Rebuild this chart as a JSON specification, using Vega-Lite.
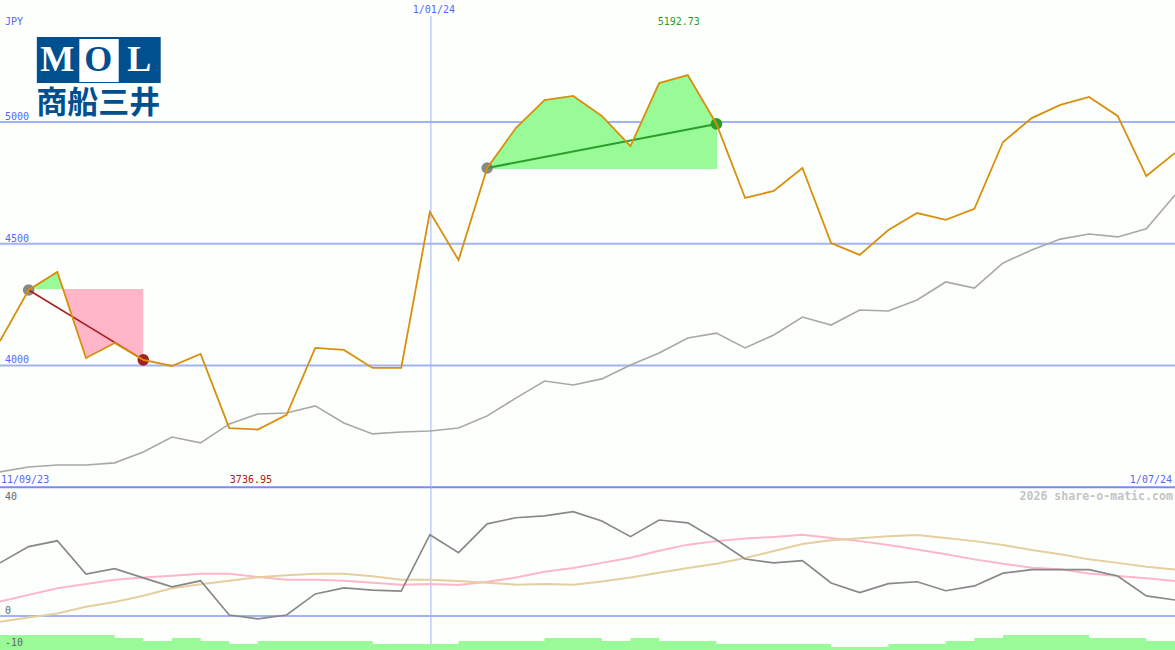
{
"$schema":"https://vega.github.io/schema/vega-lite/v6.json",
"width":1175,"height":650,"padding":0,
"autosize":{"type":"none"},
"background":"#fdfffd",
"config":{"view":{"stroke":null},"text":{"font":"DejaVu Sans Mono","fontSize":10,"baseline":"middle"}},
"datasets":{"weekly":[
{"date":"2023-09-18","price":4100,"avg":3563,"osc":16.6,"fast":4.5,"slow":-1.8,"volume":5},
{"date":"2023-09-25","price":4310,"avg":3583,"osc":21.7,"fast":6.6,"slow":-0.5,"volume":5},
{"date":"2023-10-02","price":4384,"avg":3591,"osc":23.5,"fast":8.7,"slow":0.8,"volume":5},
{"date":"2023-10-09","price":4031,"avg":3591,"osc":13.1,"fast":10,"slow":2.9,"volume":5},
{"date":"2023-10-16","price":4092,"avg":3600,"osc":14.8,"fast":11.3,"slow":4.4,"volume":4},
{"date":"2023-10-23","price":4023,"avg":3645,"osc":11.9,"fast":12,"slow":6.3,"volume":3},
{"date":"2023-10-30","price":3998,"avg":3706,"osc":9.1,"fast":12.6,"slow":8.7,"volume":4},
{"date":"2023-11-06","price":4047,"avg":3682,"osc":11,"fast":13.2,"slow":9.9,"volume":3},
{"date":"2023-11-13","price":3743,"avg":3760,"osc":0.3,"fast":13.2,"slow":11,"volume":2},
{"date":"2023-11-20","price":3736.95,"avg":3801,"osc":-0.9,"fast":12.2,"slow":12.1,"volume":3},
{"date":"2023-11-27","price":3797,"avg":3805,"osc":0.3,"fast":11.3,"slow":12.7,"volume":3},
{"date":"2023-12-04","price":4072,"avg":3834,"osc":6.9,"fast":11.3,"slow":13.2,"volume":3},
{"date":"2023-12-11","price":4064,"avg":3764,"osc":8.8,"fast":11,"slow":13.2,"volume":3},
{"date":"2023-12-18","price":3990,"avg":3719,"osc":8.1,"fast":10.4,"slow":12.4,"volume":2},
{"date":"2023-12-25","price":3990,"avg":3727,"osc":7.8,"fast":9.8,"slow":11.3,"volume":2},
{"date":"2024-01-01","price":4630,"avg":3731,"osc":25.4,"fast":10,"slow":11.3,"volume":2},
{"date":"2024-01-08","price":4433,"avg":3743,"osc":19.8,"fast":9.7,"slow":10.9,"volume":3},
{"date":"2024-01-15","price":4811,"avg":3793,"osc":28.8,"fast":10.7,"slow":10.4,"volume":3},
{"date":"2024-01-22","price":4975,"avg":3866,"osc":30.7,"fast":12,"slow":9.8,"volume":3},
{"date":"2024-01-29","price":5090,"avg":3936,"osc":31.3,"fast":13.8,"slow":10,"volume":4},
{"date":"2024-02-05","price":5107,"avg":3920,"osc":32.6,"fast":15,"slow":9.8,"volume":4},
{"date":"2024-02-12","price":5025,"avg":3945,"osc":29.7,"fast":16.6,"slow":10.8,"volume":3},
{"date":"2024-02-19","price":4901,"avg":4002,"osc":24.8,"fast":18.2,"slow":12,"volume":4},
{"date":"2024-02-26","price":5160,"avg":4051,"osc":30,"fast":20.4,"slow":13.5,"volume":3},
{"date":"2024-03-04","price":5192.73,"avg":4113,"osc":29.1,"fast":22.3,"slow":15,"volume":3},
{"date":"2024-03-11","price":4992,"avg":4133,"osc":23.8,"fast":23.4,"slow":16.3,"volume":2},
{"date":"2024-03-18","price":4688,"avg":4072,"osc":17.8,"fast":24.2,"slow":18.1,"volume":2},
{"date":"2024-03-25","price":4717,"avg":4125,"osc":16.6,"fast":24.7,"slow":20.3,"volume":2},
{"date":"2024-04-01","price":4811,"avg":4199,"osc":17.3,"fast":25.4,"slow":22.5,"volume":2},
{"date":"2024-04-08","price":4503,"avg":4166,"osc":10.3,"fast":24.4,"slow":23.7,"volume":1},
{"date":"2024-04-15","price":4454,"avg":4228,"osc":7.3,"fast":23.4,"slow":24.3,"volume":1},
{"date":"2024-04-22","price":4556,"avg":4224,"osc":10.1,"fast":22.2,"slow":24.9,"volume":2},
{"date":"2024-04-29","price":4626,"avg":4269,"osc":10.7,"fast":20.8,"slow":25.3,"volume":2},
{"date":"2024-05-06","price":4598,"avg":4343,"osc":7.9,"fast":19.3,"slow":24.4,"volume":3},
{"date":"2024-05-13","price":4643,"avg":4318,"osc":9.4,"fast":17.7,"slow":23.4,"volume":4},
{"date":"2024-05-20","price":4918,"avg":4421,"osc":13.4,"fast":16.3,"slow":22.2,"volume":5},
{"date":"2024-05-27","price":5016,"avg":4474,"osc":14.5,"fast":15.1,"slow":20.6,"volume":5},
{"date":"2024-06-03","price":5070,"avg":4519,"osc":14.5,"fast":14.6,"slow":19.3,"volume":5},
{"date":"2024-06-10","price":5103,"avg":4540,"osc":14.5,"fast":13.3,"slow":17.7,"volume":4},
{"date":"2024-06-17","price":5025,"avg":4528,"osc":12.5,"fast":12.5,"slow":16.6,"volume":4},
{"date":"2024-06-24","price":4778,"avg":4561,"osc":6.3,"fast":11.8,"slow":15.4,"volume":3},
{"date":"2024-07-01","price":4873,"avg":4700,"osc":5,"fast":10.9,"slow":14.5,"volume":3}
]},
"encoding":{"x":{"field":"date","type":"temporal","scale":{"domain":["2023-09-18","2024-07-01"]},"axis":null}},
"layer":[
{"encoding":{"y":{"field":"price","type":"quantitative","scale":{"domain":[2831.45,5501]},"axis":null}},
"layer":[
{"data":{"values":[{"price":5000},{"price":4500},{"price":4000}]},"mark":{"type":"rule","color":"#a3b1f5","strokeWidth":2},"encoding":{"x":null}},
{"data":{"values":[{"price":3500}]},"mark":{"type":"rule","color":"#7b8aee","strokeWidth":2},"encoding":{"x":null}},
{"data":{"values":[{"date":"2024-01-01T06:00:00","price":5435,"to":2856}]},"mark":{"type":"rule","color":"#a3b1f5","strokeWidth":1},"encoding":{"y2":{"field":"to"}}},
{"data":{"values":[{"date":"2023-09-25","price":4314,"entry":4314},{"date":"2023-10-02","price":4384,"entry":4314},{"date":"2023-10-03T09:00:00","price":4314,"entry":4314}]},"mark":{"type":"area","color":"#98fb98","opacity":1},"encoding":{"y2":{"field":"entry"}}},
{"data":{"values":[{"date":"2023-10-03T09:00:00","price":4314,"entry":4314},{"date":"2023-10-09","price":4031,"entry":4314},{"date":"2023-10-16","price":4092,"entry":4314},{"date":"2023-10-23","price":4023,"entry":4314}]},"mark":{"type":"area","color":"#ffb6c8","opacity":1},"encoding":{"y2":{"field":"entry"}}},
{"data":{"values":[{"date":"2024-01-15","price":4811,"entry":4807},{"date":"2024-01-22","price":4975,"entry":4807},{"date":"2024-01-29","price":5090,"entry":4807},{"date":"2024-02-05","price":5107,"entry":4807},{"date":"2024-02-12","price":5025,"entry":4807},{"date":"2024-02-19","price":4901,"entry":4807},{"date":"2024-02-26","price":5160,"entry":4807},{"date":"2024-03-04","price":5192.73,"entry":4807},{"date":"2024-03-11T03:00:00","price":4992,"entry":4807}]},"mark":{"type":"area","color":"#98fb98","opacity":1},"encoding":{"y2":{"field":"entry"}}},
{"data":{"name":"weekly"},"mark":{"type":"line","color":"#a8a8a4","strokeWidth":1.6},"encoding":{"y":{"field":"avg","type":"quantitative"}}},
{"data":{"values":[{"date":"2023-09-25","price":4310},{"date":"2024-01-15","price":4811}]},"mark":{"type":"circle","color":"#888888","size":135,"opacity":1}},
{"data":{"values":[{"date":"2023-10-23","price":4023}]},"mark":{"type":"circle","color":"#a52020","size":135,"opacity":1}},
{"data":{"values":[{"date":"2024-03-11","price":4992}]},"mark":{"type":"circle","color":"#2a9d2a","size":135,"opacity":1}},
{"data":{"values":[{"date":"2023-09-25","price":4310},{"date":"2023-10-23","price":4023}]},"mark":{"type":"line","color":"#a52020","strokeWidth":1.6}},
{"data":{"values":[{"date":"2024-01-15","price":4811},{"date":"2024-03-11","price":4992}]},"mark":{"type":"line","color":"#2a9d2a","strokeWidth":2}},
{"data":{"name":"weekly"},"mark":{"type":"line","color":"#d8900c","strokeWidth":1.8}},
{"data":{"values":[{"date":"2023-09-18","price":5000,"label":"5000"},{"date":"2023-09-18","price":4500,"label":"4500"},{"date":"2023-09-18","price":4000,"label":"4000"}]},"mark":{"type":"text","align":"left","dx":5,"dy":-5,"color":"#5566ff"},"encoding":{"text":{"field":"label"}}},
{"data":{"values":[{"date":"2023-09-18","price":5501,"label":"JPY"}]},"mark":{"type":"text","align":"left","dx":5,"dy":22,"color":"#5566ff"},"encoding":{"text":{"field":"label"}}},
{"data":{"values":[{"date":"2023-09-18","price":3500,"label":"11/09/23"}]},"mark":{"type":"text","align":"left","dx":1,"dy":-7,"color":"#5566ff"},"encoding":{"text":{"field":"label"}}},
{"data":{"values":[{"date":"2024-07-01","price":3500,"label":"1/07/24"}]},"mark":{"type":"text","align":"right","dx":-3,"dy":-7,"color":"#5566ff"},"encoding":{"text":{"field":"label"}}},
{"data":{"values":[{"date":"2024-01-01","price":5501,"label":"1/01/24"}]},"mark":{"type":"text","align":"center","dx":4,"dy":10,"color":"#5566ff"},"encoding":{"text":{"field":"label"}}},
{"data":{"values":[{"date":"2024-03-04","price":5192.73,"label":"5192.73"}]},"mark":{"type":"text","align":"center","dx":-9,"dy":-53,"color":"#2a9d2a"},"encoding":{"text":{"field":"label"}}},
{"data":{"values":[{"date":"2023-11-20","price":3736.95,"label":"3736.95"}]},"mark":{"type":"text","align":"center","dx":-7,"dy":50,"color":"#a52020"},"encoding":{"text":{"field":"label"}}},
{"data":{"values":[{"date":"2023-09-27","price":5349,"bottom":5160,"end":"2023-10-27T06:00:00"}]},"mark":{"type":"rect","color":"#00508f"},"encoding":{"x2":{"field":"end"},"y2":{"field":"bottom"}}},
{"data":{"values":[{"date":"2023-10-07T09:00:00","price":5341,"bottom":5164,"end":"2023-10-17"}]},"mark":{"type":"rect","color":"#ffffff"},"encoding":{"x2":{"field":"end"},"y2":{"field":"bottom"}}},
{"data":{"values":[{"date":"2023-10-02","price":5253,"label":"M"},{"date":"2023-10-22","price":5253,"label":"L"}]},"mark":{"type":"text","align":"center","font":"Liberation Serif","fontWeight":"bold","fontSize":36,"color":"#ffffff"},"encoding":{"text":{"field":"label"}}},
{"data":{"values":[{"date":"2023-10-12","price":5253,"label":"O"}]},"mark":{"type":"text","align":"center","font":"Liberation Serif","fontWeight":"bold","fontSize":36,"color":"#00508f"},"encoding":{"text":{"field":"label"}}},
{"data":{"values":[{"date":"2023-10-12","price":5074,"label":"商船三井"}]},"mark":{"type":"text","align":"center","font":"Noto Sans CJK JP","fontWeight":"bold","fontSize":31,"color":"#00508f"},"encoding":{"text":{"field":"label"}}}
]},
{"data":{"name":"weekly"},"mark":{"type":"area","interpolate":"step-after","color":"#98fb98","opacity":1},
"encoding":{"y":{"field":"volume","type":"quantitative","scale":{"domain":[0,216.667]},"axis":null}}},
{"encoding":{"y":{"field":"value","type":"quantitative","scale":{"domain":[-10.625,192.5]},"axis":null}},
"layer":[
{"data":{"values":[{"value":0}]},"mark":{"type":"rule","color":"#a3b1f5","strokeWidth":2},"encoding":{"x":null}},
{"data":{"name":"weekly"},"mark":{"type":"line","color":"#ffb6c8","strokeWidth":2},"encoding":{"y":{"field":"fast","type":"quantitative"}}},
{"data":{"name":"weekly"},"mark":{"type":"line","color":"#e4cfa0","strokeWidth":2},"encoding":{"y":{"field":"slow","type":"quantitative"}}},
{"data":{"name":"weekly"},"mark":{"type":"line","color":"#888888","strokeWidth":1.7},"encoding":{"y":{"field":"osc","type":"quantitative"}}},
{"data":{"values":[{"date":"2023-09-18","value":40,"label":"40"}]},"mark":{"type":"text","align":"left","dx":5,"dy":9,"color":"#666666"},"encoding":{"text":{"field":"label"}}},
{"data":{"values":[{"date":"2023-09-18","value":0,"label":"0"},{"date":"2023-09-18","value":-10,"label":"-10"}]},"mark":{"type":"text","align":"left","dx":5,"dy":-5,"color":"#666666"},"encoding":{"text":{"field":"label"}}},
{"data":{"values":[{"date":"2024-07-01","value":40,"label":"2026 share-o-matic.com"}]},"mark":{"type":"text","align":"right","dx":-2,"dy":9,"color":"#c4c4c4","fontWeight":"bold","fontSize":11.6},"encoding":{"text":{"field":"label"}}}
]}
],
"resolve":{"scale":{"y":"independent"}}
}
